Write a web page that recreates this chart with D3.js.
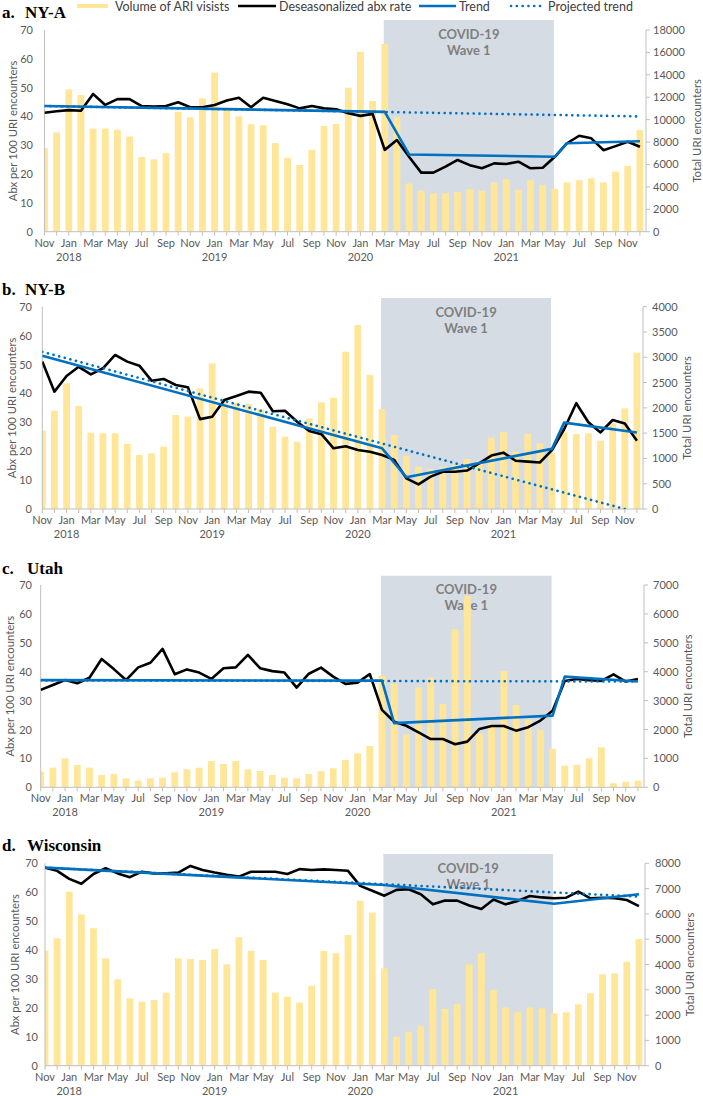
<!DOCTYPE html>
<html><head><meta charset="utf-8">
<script src="https://cdn.jsdelivr.net/npm/d3@7"></script>
<style>
body{margin:0;background:#fff;}
svg{display:block;font-family:Lato,"Open Sans",sans-serif;}
</style></head><body>
<svg id="chart" width="703" height="1096"></svg>
<script>
// ---------- DATA ----------
const months = ["Nov 2017","Dec 2017",
 "Jan 2018","Feb 2018","Mar 2018","Apr 2018","May 2018","Jun 2018","Jul 2018","Aug 2018","Sep 2018","Oct 2018","Nov 2018","Dec 2018",
 "Jan 2019","Feb 2019","Mar 2019","Apr 2019","May 2019","Jun 2019","Jul 2019","Aug 2019","Sep 2019","Oct 2019","Nov 2019","Dec 2019",
 "Jan 2020","Feb 2020","Mar 2020","Apr 2020","May 2020","Jun 2020","Jul 2020","Aug 2020","Sep 2020","Oct 2020","Nov 2020","Dec 2020",
 "Jan 2021","Feb 2021","Mar 2021","Apr 2021","May 2021","Jun 2021","Jul 2021","Aug 2021","Sep 2021","Oct 2021","Nov 2021","Dec 2021"];

const panelLetters = ["a.","b.","c.","d."];
const panelNames = ["NY-A","NY-B","Utah","Wisconsin"];
const legendLabels = ["Volume of ARI visists","Deseasonalized abx rate","Trend","Projected trend"];
const covidLabel = ["COVID-19","Wave 1"];
const leftTitle = "Abx per 100 URI encounters";
const rightTitle = "Total URI encounters";
const leftTicks = [0,10,20,30,40,50,60,70];
const rightTicksA = [0,2000,4000,6000,8000,10000,12000,14000,16000,18000];
const rightTicksB = [0,500,1000,1500,2000,2500,3000,3500,4000];
const rightTicksC = [0,1000,2000,3000,4000,5000,6000,7000];
const rightTicksD = [0,1000,2000,3000,4000,5000,6000,7000,8000];
const covidStart = "Mar 2020", covidEnd = "May 2021";

// Panel a: NY-A
const visitsA = [7450,8870,12700,12200,9200,9200,9100,8500,6670,6460,7000,10700,10200,11900,14200,10900,10300,9600,9500,7900,6600,5950,7300,9430,9610,12850,16060,11660,16750,10210,4300,3660,3420,3420,3540,3800,3660,4400,4700,3750,4600,4170,3800,4400,4600,4760,4400,5360,5860,9080];
const abxA = [41.3,41.8,42.2,42.0,47.8,44.0,46.0,46.0,43.6,43.4,43.6,44.9,43.2,43.2,44.0,45.5,46.5,43.2,46.5,45.4,44.2,42.8,43.6,42.8,42.5,41.1,40.2,40.9,28.4,31.8,26.0,20.5,20.5,22.6,24.9,23.1,22.0,23.7,23.5,24.3,22.0,22.2,26.0,30.7,33.3,32.4,28.3,29.7,31.2,29.5];
const trendA = [["Nov 2017",43.6],["Mar 2020",41.6],["May 2020",26.8],["May 2021",26.0],["Jun 2021",30.7],["Dec 2021",31.4]];
const projA = [["Nov 2017",43.6],["Dec 2021",40.0]];

// Panel b: NY-B
const visitsB = [1550,1944,2484,2036,1509,1496,1496,1285,1068,1100,1232,1858,1825,2385,2880,2188,2102,2076,1970,1628,1430,1331,1786,2109,2200,3110,3638,2649,1977,1463,1054,837,791,824,870,988,936,1410,1516,1133,1483,1298,1114,1516,1483,1496,1351,1694,1990,3090];
const abxB = [51.0,40.6,46.0,49.2,46.6,48.7,53.3,51.0,49.6,44.4,45.0,42.9,42.1,31.1,31.9,37.7,39.1,40.6,40.2,33.8,34.0,30.2,27.0,25.9,21.0,21.7,20.4,19.8,18.7,17.0,10.6,8.5,11.2,12.9,12.9,13.3,15.8,18.5,19.5,16.7,16.4,16.1,20.4,27.6,36.6,30.0,26.5,30.8,29.6,23.6];
const trendB = [["Nov 2017",53.0],["Mar 2020",21.0],["May 2020",11.0],["May 2021",20.8],["Jun 2021",29.9],["Dec 2021",26.5]];
const projB = [["Nov 2017",54.4],["Nov 2021",0]];

// Panel c: Utah
const visitsC = [542,680,1003,773,680,427,461,311,231,311,334,519,623,680,911,807,911,623,565,427,334,311,461,565,657,950,1176,1430,3864,3600,1834,3460,3795,2884,5467,6620,1845,2200,4025,2850,2350,1984,1326,750,773,1003,1384,138,196,231];
const abxC = [33.7,35.4,37.1,36.0,37.9,44.4,40.9,37.1,41.5,43.1,47.9,39.1,40.8,39.7,37.5,41.2,41.5,45.8,41.2,40.2,39.7,34.5,39.3,41.4,38.3,35.8,36.2,39.2,26.8,22.7,21.3,19.0,16.7,16.7,14.9,15.8,20.2,21.2,21.2,19.6,20.8,23.1,26.5,36.8,37.5,37.1,36.8,39.1,36.6,37.5];
const trendC = [["Nov 2017",37.1],["Mar 2020",36.9],["Apr 2020",22.2],["May 2021",24.8],["Jun 2021",38.3],["Dec 2021",36.6]];
const projC = [["Nov 2017",37.0],["Dec 2021",36.6]];

// Panel d: Wisconsin
const visitsD = [4547,5035,6880,5984,5430,4244,3414,2662,2530,2596,2886,4244,4217,4178,4613,4007,5074,4547,4178,2886,2728,2491,3163,4534,4442,5166,6524,6050,3848,1147,1344,1568,3031,2240,2438,4007,4442,2992,2306,2135,2306,2267,2069,2109,2425,2860,3611,3651,4112,5008];
const abxD = [68.5,67.4,64.6,62.9,66.3,68.3,66.5,65.2,67.1,66.5,66.5,66.8,69.1,67.7,66.8,66.0,65.4,67.1,67.1,67.1,66.3,68.0,67.7,67.9,67.7,67.4,62.2,60.5,58.8,60.8,61.0,59.3,55.8,57.1,57.1,55.4,54.2,57.5,55.8,57.0,58.7,58.2,57.9,58.1,60.2,57.9,58.1,57.9,57.3,55.2];
const trendD = [["Nov 2017",68.5],["Mar 2020",62.5],["May 2021",56.0],["Dec 2021",59.3]];
const projD = [["Nov 2017",68.5],["Dec 2021",58.5]];

// ---------- LAYOUT ----------
const layout = [
 {left:44.5,right:646,top:30,bottom:231.7,titleY:18,shadeTop:20,leftLabX:33,rightLabX:653,leftTitleX:13,rightTitleX:697},
 {left:42.3,right:643,top:306.7,bottom:509,titleY:295,shadeTop:298,leftLabX:32,rightLabX:652,leftTitleX:12,rightTitleX:687},
 {left:40.7,right:644,top:585,bottom:787.3,titleY:574,shadeTop:575.7,leftLabX:32,rightLabX:653,leftTitleX:10,rightTitleX:688},
 {left:45,right:645,top:863.3,bottom:1065.7,titleY:851,shadeTop:854,leftLabX:38,rightLabX:655,leftTitleX:15,rightTitleX:690}
];
const panels = [
 {visits:visitsA, abx:abxA, trend:trendA, proj:projA, rTicks:rightTicksA},
 {visits:visitsB, abx:abxB, trend:trendB, proj:projB, rTicks:rightTicksB},
 {visits:visitsC, abx:abxC, trend:trendC, proj:projC, rTicks:rightTicksC},
 {visits:visitsD, abx:abxD, trend:trendD, proj:projD, rTicks:rightTicksD}
];

const BAR = "#FFE699", BLUE = "#0070C0", SHADE = "#D6DCE4", AXIS = "#BFBFBF", TXT = "#595959";
const DOTS = "0.1,5.7";
const svg = d3.select("#chart");
const idx = d3.scaleOrdinal().domain(months).range(d3.range(months.length));

panels.forEach((p, k) => {
  const L = layout[k];
  const g = svg.append("g");
  const x = d3.scaleLinear().domain([0, months.length - 0.5]).range([L.left, L.right]);
  const xm = m => x(idx(m));
  const yL = d3.scaleLinear().domain([0, 70]).range([L.bottom, L.top]);
  const yR = d3.scaleLinear().domain([0, d3.max(p.rTicks)]).range([L.bottom, L.top]);
  const step = x(1) - x(0);

  const cid = "clip" + k;
  svg.append("clipPath").attr("id", cid).append("rect")
    .attr("x", L.left).attr("y", L.shadeTop).attr("width", L.right - L.left).attr("height", L.bottom - L.shadeTop);

  const t = g.append("text").attr("y", L.titleY).attr("font-family", "'Liberation Serif','Times New Roman',serif")
    .attr("font-weight", "bold").attr("font-size", 17).attr("fill", "#000");
  t.append("tspan").attr("x", 2).text(panelLetters[k]);
  t.append("tspan").attr("x", k === 0 || k === 1 ? 25 : 27).text(panelNames[k]);

  g.append("rect").attr("x", xm(covidStart) - 1).attr("y", L.shadeTop)
    .attr("width", xm(covidEnd) - xm(covidStart)).attr("height", L.bottom - L.shadeTop).attr("fill", SHADE);
  const cx = (xm(covidStart) - 1 + xm(covidEnd) - 1) / 2;
  g.append("text").attr("x", cx).attr("y", L.shadeTop + 18.5).attr("text-anchor", "middle")
    .attr("font-weight", "bold").attr("font-size", 13).attr("fill", "#7F7F7F").text(covidLabel[0]);
  g.append("text").attr("x", cx).attr("y", L.shadeTop + 34.5).attr("text-anchor", "middle")
    .attr("font-weight", "bold").attr("font-size", 13).attr("fill", "#7F7F7F").text(covidLabel[1]);

  const bw = step * 0.56;
  g.append("g").attr("clip-path", `url(#${cid})`).selectAll("rect").data(p.visits).join("rect")
    .attr("x", (d, i) => x(i) - bw / 2).attr("width", bw)
    .attr("y", d => yR(d)).attr("height", d => L.bottom - yR(d)).attr("fill", BAR);

  g.append("line").attr("x1", L.left).attr("x2", L.left).attr("y1", L.top).attr("y2", L.bottom).attr("stroke", AXIS);
  g.append("line").attr("x1", L.right).attr("x2", L.right).attr("y1", L.top).attr("y2", L.bottom).attr("stroke", AXIS);
  g.append("line").attr("x1", L.left).attr("x2", L.right).attr("y1", L.bottom).attr("y2", L.bottom).attr("stroke", AXIS);
  g.selectAll(".xt").data(months).join("line")
    .attr("x1", (d, i) => x(i)).attr("x2", (d, i) => x(i)).attr("y1", L.bottom).attr("y2", L.bottom + 4).attr("stroke", AXIS);
  g.selectAll(".rt").data(p.rTicks).join("line")
    .attr("x1", L.right).attr("x2", L.right + 4).attr("y1", d => yR(d)).attr("y2", d => yR(d)).attr("stroke", AXIS);

  g.selectAll(".ll").data(leftTicks).join("text")
    .attr("x", L.leftLabX).attr("y", d => yL(d) + 4).attr("text-anchor", "end")
    .attr("font-size", 11).attr("fill", TXT).text(d => d);
  g.selectAll(".rl").data(p.rTicks).join("text")
    .attr("x", L.rightLabX).attr("y", d => yR(d) + 4).attr("text-anchor", "start")
    .attr("font-size", 11).attr("fill", TXT).text(d => d);

  g.selectAll(".ml").data(months.filter((d, i) => i % 2 === 0)).join("text")
    .attr("x", d => xm(d)).attr("y", L.bottom + 15).attr("text-anchor", "middle")
    .attr("font-size", 11).attr("fill", TXT).text(d => d.split(" ")[0]);
  g.selectAll(".yl").data(months.filter(d => d.startsWith("Jan"))).join("text")
    .attr("x", d => xm(d)).attr("y", L.bottom + 29).attr("text-anchor", "middle")
    .attr("font-size", 11).attr("fill", TXT).text(d => d.split(" ")[1]);

  const midY = (L.top + L.bottom) / 2;
  g.append("text").attr("transform", `translate(${L.leftTitleX},${midY}) rotate(-90)`)
    .attr("text-anchor", "middle").attr("dy", "0.35em").attr("font-size", 11.3).attr("fill", TXT).text(leftTitle);
  g.append("text").attr("transform", `translate(${L.rightTitleX},${midY}) rotate(-90)`)
    .attr("text-anchor", "middle").attr("dy", "0.35em").attr("font-size", 11.3).attr("fill", TXT).text(rightTitle);

  const lineA = d3.line().x((d, i) => x(i)).y(d => yL(d));
  const lineT = d3.line().x(d => xm(d[0])).y(d => yL(d[1]));
  const lg = g.append("g").attr("clip-path", `url(#${cid})`);
  lg.append("path").attr("d", lineA(p.abx)).attr("fill", "none").attr("stroke", "#000").attr("stroke-width", 2.6).attr("stroke-linejoin", "round");
  lg.append("path").attr("d", lineT(p.proj)).attr("fill", "none").attr("stroke", BLUE).attr("stroke-width", 2.6)
    .attr("stroke-dasharray", DOTS).attr("stroke-linecap", "round");
  lg.append("path").attr("d", lineT(p.trend)).attr("fill", "none").attr("stroke", BLUE).attr("stroke-width", 2.6).attr("stroke-linejoin", "round");
});

// legend
const lgd = svg.append("g").attr("font-size", 12.5).attr("fill", "#404040");
lgd.append("rect").attr("x", 77).attr("y", 4).attr("width", 31).attr("height", 4).attr("fill", BAR);
lgd.append("text").attr("x", 115).attr("y", 10.5).text(legendLabels[0]);
lgd.append("line").attr("x1", 238).attr("x2", 276).attr("y1", 6).attr("y2", 6).attr("stroke", "#000").attr("stroke-width", 2.6);
lgd.append("text").attr("x", 279).attr("y", 10.5).text(legendLabels[1]);
lgd.append("line").attr("x1", 419).attr("x2", 456).attr("y1", 6).attr("y2", 6).attr("stroke", BLUE).attr("stroke-width", 2.6);
lgd.append("text").attr("x", 459).attr("y", 10.5).text(legendLabels[2]);
lgd.append("line").attr("x1", 511).attr("x2", 544).attr("y1", 6).attr("y2", 6).attr("stroke", BLUE).attr("stroke-width", 2.6)
  .attr("stroke-dasharray", DOTS).attr("stroke-linecap", "round");
lgd.append("text").attr("x", 548).attr("y", 10.5).text(legendLabels[3]);
</script>
</body></html>
